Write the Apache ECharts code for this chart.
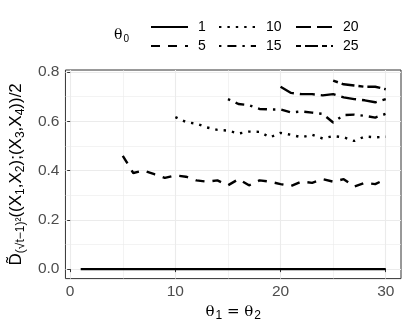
<!DOCTYPE html>
<html>
<head>
<meta charset="utf-8">
<script src="https://cdn.jsdelivr.net/npm/echarts@6.0.0/dist/echarts.min.js"></script>
<style>
  html, body { margin: 0; padding: 0; background: #fff; }
  #chart { width: 407px; height: 327px; }
</style>
</head>
<body>
<div id="chart"></div>
<script>
// theta1 = theta2 grid, each theta0 curve starts at its own theta0
const theta = [1, 2, 3, 4, 5, 6, 7, 8, 9, 10, 11, 12, 13, 14, 15, 16, 17, 18, 19, 20, 21, 22, 23, 24, 25, 26, 27, 28, 29, 30];
const theta0 = ['1', '5', '10', '15', '20', '25'];

const d1 = [0, 0, 0, 0, 0, 0, 0, 0, 0, 0, 0, 0, 0, 0, 0, 0, 0, 0, 0, 0, 0, 0, 0, 0, 0, 0, 0, 0, 0, 0];
const d5 = [0.46, 0.39, 0.40, 0.385, 0.37, 0.38, 0.375, 0.36, 0.355, 0.36, 0.34, 0.365, 0.34, 0.36, 0.355, 0.345, 0.337, 0.355, 0.35, 0.365, 0.355, 0.365, 0.335, 0.35, 0.345, 0.365];
const d10 = [0.617, 0.597, 0.59, 0.575, 0.565, 0.562, 0.55, 0.558, 0.557, 0.535, 0.553, 0.545, 0.535, 0.545, 0.53, 0.54, 0.535, 0.52, 0.538, 0.535, 0.537];
const d15 = [0.69, 0.67, 0.665, 0.65, 0.648, 0.648, 0.636, 0.64, 0.635, 0.63, 0.595, 0.625, 0.627, 0.622, 0.615, 0.63];
const d20 = [0.74, 0.715, 0.71, 0.71, 0.705, 0.71, 0.697, 0.69, 0.685, 0.677, 0.69];
const d25 = [0.765, 0.75, 0.745, 0.74, 0.74, 0.73];

const xTicks = [0, 10, 20, 30];
const xMinor = [5, 15, 25];
const yTicks = [0, 0.2, 0.4, 0.6, 0.8];
const yMinor = [0.1, 0.3, 0.5, 0.7];

const values = [d1, d5, d10, d15, d20, d25];
// ggplot linetypes: solid, dashed, dotted, dotdash, longdash, twodash
const dashes = ['solid', [9, 8], [2.4, 6], [2.4, 6, 9, 6], [15, 6], [5, 4, 13, 4]];

function pairs(vals) {
  const xs = theta.slice(theta.length - vals.length);
  return vals.map((v, i) => [xs[i], v]);
}

const grey = '#EBEBEB';
const gridLines = []
  .concat(xTicks.map(v => ({ xAxis: v, lineStyle: { color: grey, width: 1.1, type: 'solid' } })))
  .concat(xMinor.map(v => ({ xAxis: v, lineStyle: { color: grey, width: 0.6, type: 'solid' } })))
  .concat(yTicks.map(v => ({ yAxis: v, lineStyle: { color: grey, width: 1.1, type: 'solid' } })))
  .concat(yMinor.map(v => ({ yAxis: v, lineStyle: { color: grey, width: 0.6, type: 'solid' } })));

const series = [{
  name: 'grid',
  type: 'line',
  data: [],
  silent: true,
  z: 1,
  markLine: {
    silent: true,
    z: 0,
    symbol: ['none', 'none'],
    label: { show: false },
    animation: false,
    data: gridLines
  }
}].concat(theta0.map((name, i) => ({
  name: name,
  type: 'line',
  data: pairs(values[i]),
  showSymbol: false,
  symbol: 'none',
  z: 3,
  lineStyle: { color: '#000', width: 2.4, type: dashes[i], cap: 'butt' },
  itemStyle: { color: '#000' }
})));

function legendCol(left, names) {
  return {
    orient: 'vertical',
    left: left,
    top: 15,
    itemWidth: 37,
    itemHeight: 14,
    itemGap: 5,
    data: names,
    itemStyle: { opacity: 0 },
    textStyle: { color: '#000', fontSize: 14, fontFamily: 'Liberation Sans', padding: [0, 0, 0, 5] }
  };
}

const chart = echarts.init(document.getElementById('chart'), null, { renderer: 'canvas' });
chart.setOption({
  animation: false,
  title: {
    text: '{t|θ}{s|0}',
    left: 109,
    top: 22,
    textStyle: {
      fontWeight: 'normal',
      rich: {
        t: { fontSize: 14, fontFamily: 'DejaVu Serif', color: '#000', fontWeight: 'normal' },
        s: { fontSize: 10, fontFamily: 'Liberation Sans', color: '#000', fontWeight: 'normal', padding: [7, 0, 0, 1] }
      }
    }
  },
  legend: [
    legendCol(145, ['1', '5']),
    legendCol(213, ['10', '15']),
    legendCol(290, ['20', '25'])
  ],
  grid: { left: 64, right: 6, top: 70, bottom: 48, show: true, borderColor: '#333', borderWidth: 1, backgroundColor: 'transparent' },
  xAxis: {
    type: 'value',
    min: -0.45,
    max: 31.45,
    splitLine: { show: false },
    axisLine: { show: false },
    axisTick: { show: true, customValues: xTicks, length: 3, lineStyle: { color: '#333' } },
    axisLabel: { customValues: xTicks, color: '#4D4D4D', fontSize: 15.5, fontFamily: 'Liberation Sans', margin: 5 },
    name: '{t|θ}{s|1}{t| = θ}{s|2}',
    nameLocation: 'middle',
    nameGap: 20,
    nameTextStyle: {
      rich: {
        t: { fontSize: 15, fontFamily: 'DejaVu Serif', color: '#000' },
        s: { fontSize: 12, fontFamily: 'Liberation Sans', color: '#000', padding: [8, 0, 0, 1] }
      }
    }
  },
  yAxis: {
    type: 'value',
    min: -0.0385,
    max: 0.808,
    splitLine: { show: false },
    axisLine: { show: false },
    axisTick: { show: true, customValues: yTicks, length: 3, lineStyle: { color: '#333' } },
    axisLabel: { customValues: yTicks, color: '#4D4D4D', fontSize: 15.5, fontFamily: 'Liberation Sans', margin: 6,
      formatter: v => v.toFixed(1) },
    name: '{b|D\u0303}{s|(√t−1)²}{b|((X}{ss|1}{b|,X}{ss|2}{b|);(X}{ss|3}{b|,X}{ss|4}{b|))/2}',
    nameLocation: 'middle',
    nameRotate: 90,
    nameGap: 37,
    nameTextStyle: {
      rich: {
        b: { fontSize: 17, fontFamily: 'Liberation Sans', color: '#000' },
        s: { fontSize: 12, fontFamily: 'Liberation Sans', color: '#000', padding: [9, 0, 0, 0] },
        ss: { fontSize: 12, fontFamily: 'Liberation Sans', color: '#000', padding: [9, 0, 0, 0] }
      }
    }
  },
  series: series
});
</script>
</body>
</html>
